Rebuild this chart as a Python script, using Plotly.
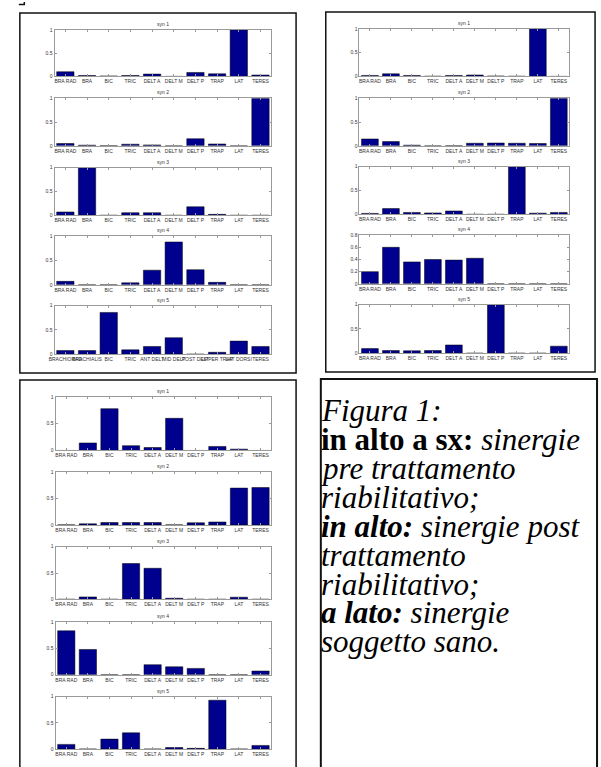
import plotly.graph_objects as go

W, H = 601, 767

# ---------------- data ----------------
muscles = ["BRA RAD", "BRA", "BIC", "TRIC", "DELT A", "DELT M", "DELT P", "TRAP", "LAT", "TERES"]
muscles_pre5 = ["BRACHIORAD", "BRACHIALIS", "BIC", "TRIC", "ANT DELT", "MID DELT",
                "POST DELT", "UPPER TRAP", "LAT DORSI", "TERES"]
syn_titles = ["syn 1", "syn 2", "syn 3", "syn 4", "syn 5"]

pre_syn1 = [0.10, 0.02, 0.01, 0.02, 0.05, 0.0, 0.085, 0.055, 1.0, 0.03]
pre_syn2 = [0.05, 0.015, 0.005, 0.035, 0.02, 0.0, 0.15, 0.04, 0.0, 1.0]
pre_syn3 = [0.07, 1.0, 0.0, 0.055, 0.055, 0.0, 0.18, 0.02, 0.0, 0.0]
pre_syn4 = [0.07, 0.0, 0.0, 0.04, 0.30, 0.88, 0.31, 0.05, 0.0, 0.0]
pre_syn5 = [0.075, 0.075, 0.86, 0.09, 0.16, 0.34, 0.0, 0.04, 0.27, 0.16]

post_syn1 = [0.02, 0.055, 0.02, 0.005, 0.02, 0.03, 0.01, 0.005, 1.0, 0.0]
post_syn2 = [0.145, 0.09, 0.015, 0.0, 0.005, 0.055, 0.06, 0.055, 0.05, 1.0]
post_syn3 = [0.02, 0.12, 0.04, 0.03, 0.07, 0.0, 0.0, 1.0, 0.025, 0.04]
post_syn4 = [0.20, 0.60, 0.36, 0.40, 0.39, 0.42, 0.0, 0.0, 0.0, 0.0]
post_syn5 = [0.095, 0.055, 0.05, 0.055, 0.17, 0.0, 1.0, 0.0, 0.0, 0.145]

healthy_syn1 = [0.0, 0.14, 0.78, 0.09, 0.055, 0.60, 0.0, 0.075, 0.025, 0.0]
healthy_syn2 = [0.0, 0.02, 0.045, 0.045, 0.045, 0.0, 0.04, 0.055, 0.70, 0.71]
healthy_syn3 = [0.0, 0.045, 0.0, 0.68, 0.59, 0.02, 0.0, 0.0, 0.04, 0.0]
healthy_syn4 = [0.835, 0.48, 0.0, 0.0, 0.19, 0.15, 0.12, 0.0, 0.0, 0.07]
healthy_syn5 = [0.09, 0.0, 0.19, 0.31, 0.0, 0.03, 0.015, 0.93, 0.0, 0.07]

ticks_01 = [0, 0.5, 1]
ticks_01_text = ["0", "0.5", "1"]
ticks_08 = [0, 0.2, 0.4, 0.6, 0.8]
ticks_08_text = ["0", "0.2", "0.4", "0.6", "0.8"]

caption_lines = [
    "<i>Figura 1:</i>",
    "<b>in alto a sx:</b> <i>sinergie</i>",
    "<i>pre trattamento</i>",
    "<i>riabilitativo;</i>",
    "<b><i>in alto:</i></b><i> sinergie post</i>",
    "<i>trattamento</i>",
    "<i>riabilitativo;</i>",
    "<b><i>a lato:</i></b><i> sinergie</i>",
    "<i>soggetto sano.</i>",
]

# ---------------- layout geometry (pixels) ----------------
def px(x):
    return x / W

def py(y):
    return 1 - y / H

panels = [
    dict(data=[pre_syn1, pre_syn2, pre_syn3, pre_syn4, pre_syn5],
         labels=[muscles, muscles, muscles, muscles, muscles_pre5],
         ymax=[1, 1, 1, 1, 1],
         x0=49, x1=268,
         rows=[(27, 74), (96, 144), (166, 214), (235, 284), (305, 354)]),
    dict(data=[post_syn1, post_syn2, post_syn3, post_syn4, post_syn5],
         labels=[muscles] * 5,
         ymax=[1, 1, 1, 0.8, 1],
         x0=357, x1=569,
         rows=[(26, 74), (96, 144), (165, 213), (234, 283), (304, 353)]),
    dict(data=[healthy_syn1, healthy_syn2, healthy_syn3, healthy_syn4, healthy_syn5],
         labels=[muscles] * 5,
         ymax=[1, 1, 1, 1, 1],
         x0=50, x1=268,
         rows=[(397, 451), (473, 526), (548, 601), (624, 677), (699, 752)]),
]

BAR_COLOR = "#00008F"
AX_COLOR = "#9a9a9a"
TICK_FONT = dict(family="Liberation Sans, Arial, sans-serif", size=5, color="#333333")

fig = go.Figure()
annotations = []
k = 0
for p in panels:
    for i, vals in enumerate(p["data"]):
        k += 1
        suffix = "" if k == 1 else str(k)
        labels = p["labels"][i]
        fig.add_trace(go.Bar(
            x=labels, y=vals,
            xaxis="x" + suffix, yaxis="y" + suffix,
            marker=dict(color=BAR_COLOR, line=dict(color="black", width=0.5)),
            showlegend=False, hoverinfo="x+y",
        ))
        top, bot = p["rows"][i]
        ymax = p["ymax"][i]
        if ymax == 1:
            tv, tt = ticks_01, ticks_01_text
        else:
            tv, tt = ticks_08, ticks_08_text
        fig.layout["xaxis" + suffix] = dict(
            domain=[px(p["x0"]), px(p["x1"])],
            anchor="y" + suffix,
            type="category", categoryorder="array", categoryarray=labels,
            range=[-0.5, 9.5], tickangle=0,
            showline=True, linecolor=AX_COLOR, linewidth=1, mirror="ticks",
            ticks="inside", ticklen=2, tickcolor=AX_COLOR,
            showgrid=False, zeroline=False, tickfont=TICK_FONT, fixedrange=True,
        )
        fig.layout["yaxis" + suffix] = dict(
            domain=[py(bot), py(top)],
            anchor="x" + suffix,
            range=[0, ymax], tickvals=tv, ticktext=tt,
            showline=True, linecolor=AX_COLOR, linewidth=1, mirror="ticks",
            ticks="inside", ticklen=2, tickcolor=AX_COLOR,
            showgrid=False, zeroline=False, tickfont=TICK_FONT, fixedrange=True,
        )
        annotations.append(dict(
            text=syn_titles[i], xref="paper", yref="paper",
            x=px((p["x0"] + p["x1"]) / 2), y=py(top - 6),
            xanchor="center", yanchor="middle", showarrow=False,
            font=dict(family="Liberation Sans, Arial, sans-serif", size=5, color="#333333"),
        ))

# caption text
cap_y0 = 411
cap_dy = 29.1
for j, line in enumerate(caption_lines):
    annotations.append(dict(
        text=line, xref="paper", yref="paper",
        x=px(316), y=py(cap_y0 + j * cap_dy),
        xanchor="left", yanchor="middle", showarrow=False,
        font=dict(family="Liberation Serif, Times New Roman, serif", size=31, color="black"),
    ))

shapes = []
def rect(x0, y0, x1, y1, w=1.5):
    shapes.append(dict(type="rect", xref="paper", yref="paper",
                       x0=px(x0), x1=px(x1), y0=py(y1), y1=py(y0),
                       line=dict(color="#111111", width=w), fillcolor="rgba(0,0,0,0)"))

rect(14, 10, 293, 373)
rect(323, 9, 595, 372)
rect(14, 380, 293, 780)
rect(318, 379, 597, 780, w=2)
# small bracket fragment at top-left corner
shapes.append(dict(type="path", xref="paper", yref="paper",
                   path=f"M {px(13)},{py(1.5)} L {px(18.5)},{py(1.5)} L {px(18.5)},{py(-1)}",
                   line=dict(color="#111111", width=1.5)))

fig.update_layout(
    width=W, height=H, autosize=False,
    margin=dict(l=0, r=0, t=0, b=0),
    paper_bgcolor="white", plot_bgcolor="white",
    bargap=0.2, showlegend=False,
    annotations=annotations, shapes=shapes,
)

fig.write_html(
    "out.html",
    config={"displayModeBar": False, "staticPlot": True},
    post_script="document.body.style.margin='0';document.body.style.padding='0';"
                "document.body.style.overflow='hidden';"
                "document.documentElement.style.overflow='hidden';",
)
